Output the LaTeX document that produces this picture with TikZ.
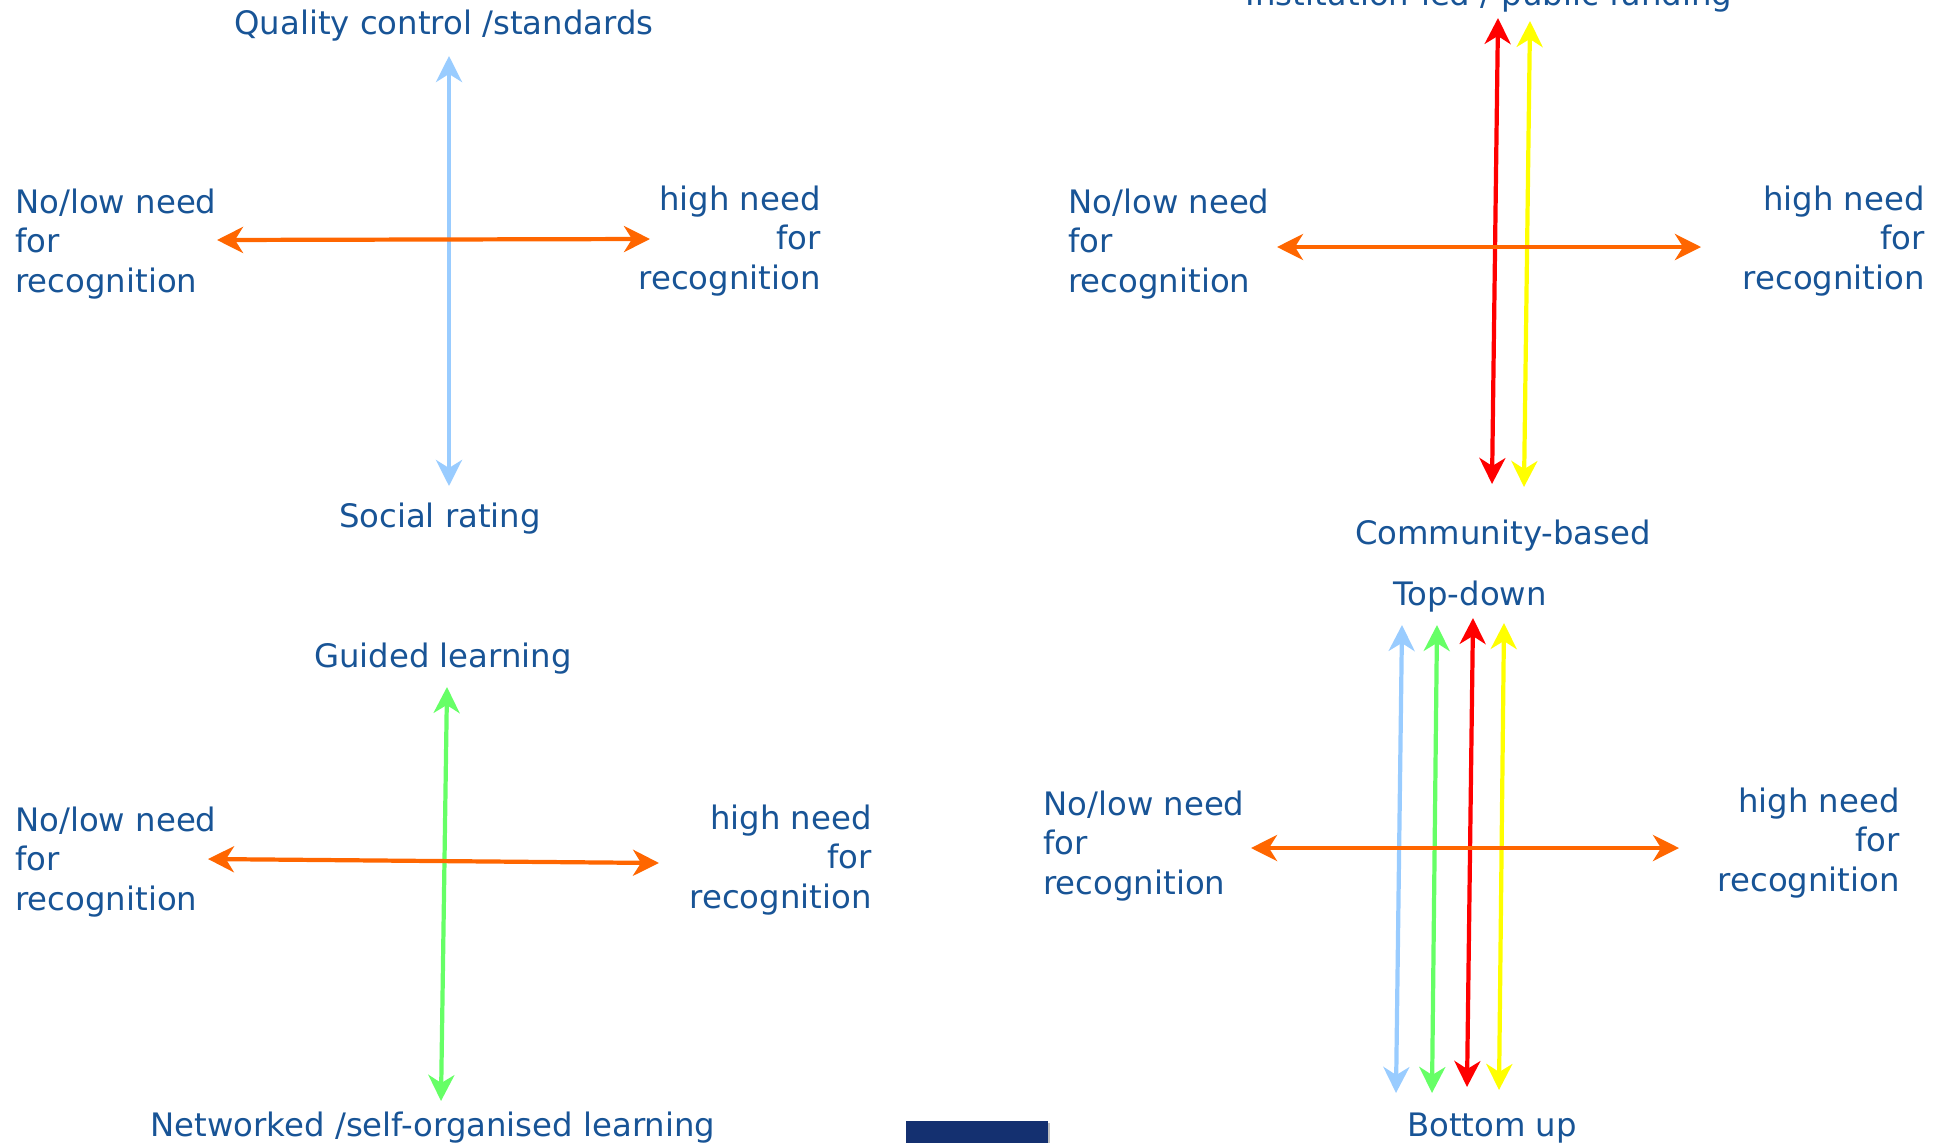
\documentclass[tikz,border=0pt]{standalone}
\usepackage{fontspec}
\setmainfont{DejaVu Sans}
\usepackage{tikz}
\usetikzlibrary{arrows.meta}
\definecolor{txtblue}{RGB}{24,84,150}
\definecolor{axorange}{RGB}{255,102,0}
\definecolor{axblue}{RGB}{153,204,255}
\definecolor{axgreen}{RGB}{102,255,102}
\definecolor{axred}{RGB}{255,0,0}
\definecolor{axyellow}{RGB}{255,255,0}
\definecolor{barblue}{RGB}{20,48,112}

\begin{document}
\begin{tikzpicture}[x=0.02cm,y=-0.02cm,
  lbl/.style = {text=txtblue, inner sep=0pt, font=\fontsize{18.4}{22.3}\selectfont},
  lft/.style = {lbl, align=left, anchor=west},
  rgt/.style = {lbl, align=right, anchor=east},
  axis/.style = {line width=2.4pt, {Stealth[length=0.52cm,width=0.52cm,inset=0.16cm]}-{Stealth[length=0.52cm,width=0.52cm,inset=0.16cm]}}]
\useasboundingbox (0,0) rectangle (1949,1143);

% top left
\node[lbl] (q1t) at (444,26) {Quality control /standards};
\node[lbl] (q1b) at (440,519) {Social rating};
\node[lft] (q1l) at (15,244) {No/low need\\for\\recognition};
\node[rgt] (q1r) at (821,241) {high need\\for\\recognition};
\coordinate (q1n) at (449,56);
\coordinate (q1s) at (449,486);
\coordinate (q1w) at (217,240);
\coordinate (q1e) at (650,239);
\draw[axis, axblue] (q1s) -- (q1n);
\draw[axis, axorange] (q1w) -- (q1e);

% top right
\node[lbl] (q2t) at (1489,-3) {Institution-led / public funding};
\node[lbl] (q2b) at (1503,536) {Community-based};
\node[lft] (q2l) at (1068,244) {No/low need\\for\\recognition};
\node[rgt] (q2r) at (1925,241) {high need\\for\\recognition};
\coordinate (q2rn) at (1498,18);
\coordinate (q2rs) at (1492,484);
\coordinate (q2yn) at (1530,21);
\coordinate (q2ys) at (1524,487);
\coordinate (q2w) at (1277,247);
\coordinate (q2e) at (1701,247);
\draw[axis, axred] (q2rs) -- (q2rn);
\draw[axis, axyellow] (q2ys) -- (q2yn);
\draw[axis, axorange] (q2w) -- (q2e);

% bottom left
\node[lbl] (q3t) at (443,659) {Guided learning};
\node[lbl] (q3b) at (433,1128) {Networked /self-organised learning};
\node[lft] (q3l) at (15,862) {No/low need\\for\\recognition};
\node[rgt] (q3r) at (872,860) {high need\\for\\recognition};
\coordinate (q3n) at (447,687);
\coordinate (q3s) at (441,1101);
\coordinate (q3w) at (208,859);
\coordinate (q3e) at (659,863);
\draw[axis, axgreen] (q3s) -- (q3n);
\draw[axis, axorange] (q3w) -- (q3e);

% bottom right
\node[lbl] (q4t) at (1470,597) {Top-down};
\node[lbl] (q4b) at (1492,1128) {Bottom up};
\node[lft] (q4l) at (1043,846) {No/low need\\for\\recognition};
\node[rgt] (q4r) at (1900,843) {high need\\for\\recognition};
\coordinate (q4bn) at (1402,625);
\coordinate (q4bs) at (1396,1093);
\coordinate (q4gn) at (1437,625);
\coordinate (q4gs) at (1432,1093);
\coordinate (q4rn) at (1473,618);
\coordinate (q4rs) at (1467,1087);
\coordinate (q4yn) at (1504,623);
\coordinate (q4ys) at (1499,1090);
\coordinate (q4w) at (1251,848);
\coordinate (q4e) at (1679,848);
\draw[axis, axblue] (q4bs) -- (q4bn);
\draw[axis, axgreen] (q4gs) -- (q4gn);
\draw[axis, axred] (q4rs) -- (q4rn);
\draw[axis, axyellow] (q4ys) -- (q4yn);
\draw[axis, axorange] (q4w) -- (q4e);

\fill[black!25] (909,1123) rectangle (1050,1143);
\fill[barblue] (906,1121) rectangle (1048,1143);
\end{tikzpicture}
\end{document}
